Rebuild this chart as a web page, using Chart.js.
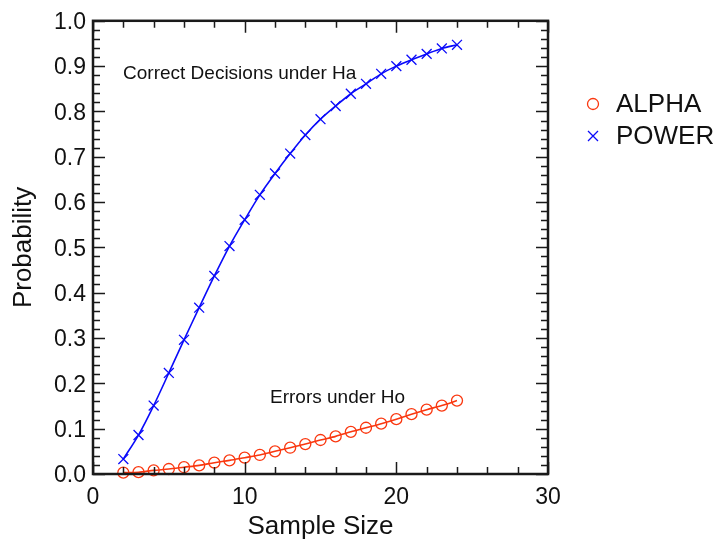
<!DOCTYPE html>
<html><head><meta charset="utf-8">
<script src="https://cdn.jsdelivr.net/npm/chart.js@4.4.1/dist/chart.umd.min.js"></script>
<style>html,body{margin:0;padding:0;background:#fff;}#wrap{width:717px;height:546px;}</style>
</head><body><div id="wrap"><canvas id="c" width="717" height="546"></canvas></div>
<script>
const sampleSizes = [2,3,4,5,6,7,8,9,10,11,12,13,14,15,16,17,18,19,20,21,22,23,24];
const alphaValues = [0.003,0.004,0.008,0.011,0.015,0.019,0.025,0.030,0.036,0.042,0.050,0.058,0.066,0.075,0.083,0.093,0.102,0.111,0.121,0.132,0.142,0.151,0.162];
const powerValues = [0.033,0.086,0.151,0.223,0.296,0.367,0.437,0.503,0.561,0.616,0.663,0.707,0.748,0.783,0.812,0.839,0.861,0.883,0.900,0.914,0.927,0.939,0.947];
const seriesNames = ['ALPHA','POWER'];
const xTickValues = [0,10,20,30];
const yTickValues = [0,0.1,0.2,0.3,0.4,0.5,0.6,0.7,0.8,0.9,1.0];
const annotationTexts = ['Correct Decisions under Ha','Errors under Ho'];
const xTitle = 'Sample Size';
const yTitle = 'Probability';

const FONT = "'Liberation Sans', Arial, Helvetica, sans-serif";
const RED = 'rgb(250,55,15)';
const BLUE = 'rgb(10,10,250)';

function toXY(xs, ys){ return xs.map((x,i)=>({x:x,y:ys[i]})); }

const framePlugin = {
  id:'frame',
  afterDatasetsDraw(chart){
    const ctx = chart.ctx, a = chart.chartArea;
    const xs = chart.scales.x, ys = chart.scales.y;
    ctx.save();
    ctx.strokeStyle = '#1a1a1a';
    ctx.lineWidth = 1.5;
    // x ticks (minor every 2, major every 10)
    for (let v = xs.min; v <= xs.max + 1e-9; v += 2) {
      const px = Math.round(xs.getPixelForValue(v)) + 0.5;
      const len = (Math.abs(v % 10) < 1e-9) ? 12 : 7;
      ctx.beginPath();
      ctx.moveTo(px, a.bottom); ctx.lineTo(px, a.bottom - len);
      ctx.moveTo(px, a.top); ctx.lineTo(px, a.top + len);
      ctx.stroke();
    }
    // y ticks (minor every 0.02, major every 0.1)
    for (let i = 0; i <= 50; i++) {
      const v = ys.min + i * 0.02;
      const py = Math.round(ys.getPixelForValue(v)) + 0.5;
      const len = (i % 5 === 0) ? 12 : 7;
      ctx.beginPath();
      ctx.moveTo(a.left, py); ctx.lineTo(a.left + len, py);
      ctx.moveTo(a.right, py); ctx.lineTo(a.right - len, py);
      ctx.stroke();
    }
    ctx.lineWidth = 2.5;
    ctx.strokeRect(a.left, a.top, a.right - a.left, a.bottom - a.top);
    // annotations
    ctx.fillStyle = '#111';
    ctx.font = '19px ' + FONT;
    ctx.textAlign = 'left';
    ctx.textBaseline = 'middle';
    ctx.fillText(annotationTexts[0], xs.getPixelForValue(1.98), ys.getPixelForValue(0.884));
    ctx.fillText(annotationTexts[1], xs.getPixelForValue(11.67), ys.getPixelForValue(0.169));
    // legend
    const items = [
      {style:'circle', color:RED, y:104, label:chart.data.datasets[0].label},
      {style:'cross', color:BLUE, y:136, label:chart.data.datasets[1].label}
    ];
    ctx.font = '26px ' + FONT;
    items.forEach(it => {
      ctx.strokeStyle = it.color;
      ctx.lineWidth = 1.3;
      ctx.beginPath();
      if (it.style === 'circle') {
        ctx.arc(593, it.y, 5.5, 0, Math.PI*2);
      } else {
        ctx.moveTo(588, it.y-5); ctx.lineTo(598, it.y+5);
        ctx.moveTo(598, it.y-5); ctx.lineTo(588, it.y+5);
      }
      ctx.stroke();
      ctx.fillStyle = '#111';
      ctx.fillText(it.label, 616, it.y + 1);
    });
    ctx.restore();
  }
};

new Chart(document.getElementById('c'), {
  type:'line',
  data:{
    datasets:[
      {label:seriesNames[0], data:toXY(sampleSizes, alphaValues), borderColor:RED, backgroundColor:'rgba(0,0,0,0)',
       pointStyle:'circle', pointRadius:5.5, pointBorderColor:RED, pointBorderWidth:1.3, pointBackgroundColor:'rgba(0,0,0,0)',
       borderWidth:1.6, tension:0.3, clip:false},
      {label:seriesNames[1], data:toXY(sampleSizes, powerValues), borderColor:BLUE, backgroundColor:'rgba(0,0,0,0)',
       pointStyle:'crossRot', pointRadius:7, pointBorderColor:BLUE, pointBorderWidth:1.3,
       borderWidth:1.6, tension:0.3, clip:false}
    ]
  },
  options:{
    responsive:false, animation:false, devicePixelRatio:1,
    layout:{padding:{left:0, top:18, right:169, bottom:0}},
    plugins:{legend:{display:false}, tooltip:{enabled:false}},
    scales:{
      x:{type:'linear', min:0, max:30,
        afterBuildTicks:s=>{ s.ticks = xTickValues.map(v=>({value:v})); },
        afterFit:s=>{ s.height = 72; },
        grid:{display:false, drawTicks:false}, border:{display:false},
        ticks:{padding:10, color:'#111', font:{family:FONT, size:23}, callback:v=>String(v)},
        title:{display:true, text:xTitle, color:'#111', font:{family:FONT, size:26}, padding:{top:0,bottom:4}}
      },
      y:{type:'linear', min:0, max:1,
        afterBuildTicks:s=>{ s.ticks = yTickValues.map(v=>({value:v})); },
        afterFit:s=>{ s.width = 93; },
        grid:{display:false, drawTicks:false}, border:{display:false},
        ticks:{padding:7, labelOffset:2, color:'#111', font:{family:FONT, size:23}, callback:v=>Number(v).toFixed(1)},
        title:{display:true, text:yTitle, color:'#111', font:{family:FONT, size:26}, padding:{top:8,bottom:0}}
      }
    }
  },
  plugins:[framePlugin]
});
</script></body></html>
